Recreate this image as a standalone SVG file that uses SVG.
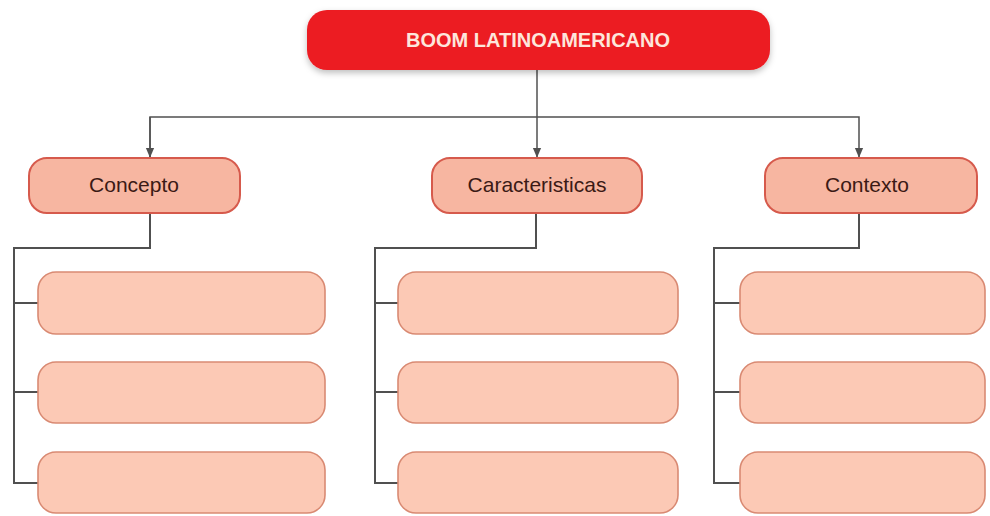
<svg xmlns="http://www.w3.org/2000/svg" width="990" height="516" viewBox="0 0 990 516">
<style>
.title{fill:#ec1c24;}
.tt{font-family:"Liberation Sans",Arial,sans-serif;font-weight:bold;font-size:20px;fill:#fde6dc;text-anchor:middle;}
.sub{fill:#f7b6a1;stroke:#d65a4c;stroke-width:2;}
.st{font-family:"Liberation Sans",Arial,sans-serif;font-size:21px;fill:#3b1a15;text-anchor:middle;}
.leaf{fill:#fcc9b5;stroke:#d98a73;stroke-width:1.6;}
.c{fill:none;stroke:#505050;stroke-width:1.5;}
.b{fill:none;stroke:#505050;stroke-width:2;}
</style>
<defs>
<marker id="arr" markerWidth="10" markerHeight="12" refX="11" refY="5" orient="auto" markerUnits="userSpaceOnUse" viewBox="0 0 12 10">
<path d="M0,0 L12,5 L0,10 Z" fill="#505050"/>
</marker>
<filter id="sh" x="-5%" y="-20%" width="110%" height="150%">
<feDropShadow dx="0" dy="3" stdDeviation="3" flood-color="#000" flood-opacity="0.25"/>
</filter>
</defs>
<g id="connectors">
<line class="c" x1="537" y1="70" x2="537" y2="157" marker-end="url(#arr)"/>
<polyline class="c" points="150,157 150,117 859,117 859,157" marker-end="url(#arr)"/>
<line class="c" x1="150" y1="117" x2="150" y2="157" marker-end="url(#arr)"/>
<polyline class="b" points="150,213 150,248 14,248 14,483 38,483"/>
<line class="b" x1="14" y1="303" x2="38" y2="303"/>
<line class="b" x1="14" y1="392" x2="38" y2="392"/>
<polyline class="b" points="536,213 536,248 375,248 375,483 398,483"/>
<line class="b" x1="375" y1="303" x2="398" y2="303"/>
<line class="b" x1="375" y1="392" x2="398" y2="392"/>
<polyline class="b" points="859,213 859,248 714,248 714,483 740,483"/>
<line class="b" x1="714" y1="303" x2="740" y2="303"/>
<line class="b" x1="714" y1="392" x2="740" y2="392"/>
</g>
<g id="boom">
<rect class="title" x="307" y="10" width="463" height="60" rx="20" filter="url(#sh)"/>
<text class="tt" x="538" y="47">BOOM LATINOAMERICANO</text>
</g>
<g id="concepto">
<rect class="sub" x="29" y="158" width="211" height="55" rx="18"/>
<text class="st" x="134" y="192">Concepto</text>
</g>
<g id="caracteristicas">
<rect class="sub" x="432" y="158" width="210" height="55" rx="18"/>
<text class="st" x="537" y="192">Caracteristicas</text>
</g>
<g id="contexto">
<rect class="sub" x="765" y="158" width="212" height="55" rx="18"/>
<text class="st" x="867" y="192">Contexto</text>
</g>
<g id="concepto-1"><rect class="leaf" x="38" y="272" width="287" height="62" rx="18"/></g>
<g id="concepto-2"><rect class="leaf" x="38" y="362" width="287" height="61" rx="18"/></g>
<g id="concepto-3"><rect class="leaf" x="38" y="452" width="287" height="61" rx="18"/></g>
<g id="caracteristicas-1"><rect class="leaf" x="398" y="272" width="280" height="62" rx="18"/></g>
<g id="caracteristicas-2"><rect class="leaf" x="398" y="362" width="280" height="61" rx="18"/></g>
<g id="caracteristicas-3"><rect class="leaf" x="398" y="452" width="280" height="61" rx="18"/></g>
<g id="contexto-1"><rect class="leaf" x="740" y="272" width="245" height="62" rx="18"/></g>
<g id="contexto-2"><rect class="leaf" x="740" y="362" width="245" height="61" rx="18"/></g>
<g id="contexto-3"><rect class="leaf" x="740" y="452" width="245" height="61" rx="18"/></g>
</svg>
